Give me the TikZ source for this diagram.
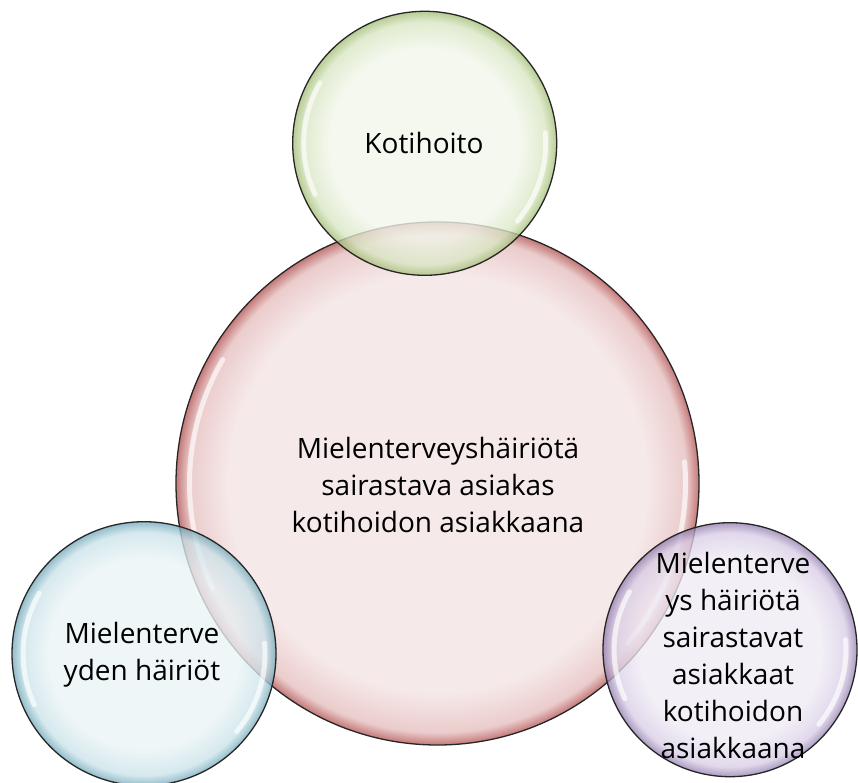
\documentclass[tikz,border=0pt]{standalone}
\usepackage{fontspec}
\setmainfont{Open Sans}
\definecolor{gin}{HTML}{F1F6EA}\definecolor{gmid}{HTML}{D8E6C2}\definecolor{gout}{HTML}{A3BE76}
\definecolor{rin}{HTML}{F6E9E9}\definecolor{rmid}{HTML}{EBCCCC}\definecolor{rout}{HTML}{C47878}
\definecolor{bin}{HTML}{E9F3F6}\definecolor{bmid}{HTML}{CBE3EA}\definecolor{bout}{HTML}{74AABB}
\definecolor{pin}{HTML}{EFEAF4}\definecolor{pmid}{HTML}{D9CEE6}\definecolor{pout}{HTML}{9480B0}
\pgfdeclareradialshading{shgreen}{\pgfpointorigin}{color(0bp)=(gin); color(18bp)=(gin); color(23bp)=(gmid); color(25bp)=(gout); color(50bp)=(gout)}
\pgfdeclareradialshading{shred}{\pgfpointorigin}{color(0bp)=(rin); color(20bp)=(rin); color(23.8bp)=(rmid); color(25bp)=(rout); color(50bp)=(rout)}
\pgfdeclareradialshading{shblue}{\pgfpointorigin}{color(0bp)=(bin); color(18bp)=(bin); color(23bp)=(bmid); color(25bp)=(bout); color(50bp)=(bout)}
\pgfdeclareradialshading{shpurple}{\pgfpointorigin}{color(0bp)=(pin); color(18bp)=(pin); color(23bp)=(pmid); color(25bp)=(pout); color(50bp)=(pout)}
\begin{document}
\begin{tikzpicture}[x=1pt,y=1pt,
  bubble/.style={circle, inner sep=0pt, draw=black!85, line width=1.3pt, shade},
  glint/.style={white, line width=5pt, opacity=0.65, line cap=round},
  btext/.style={align=center, inner sep=0pt, font=\fontsize{28}{37}\selectfont, text=black}]
\useasboundingbox (0,0) rectangle (858,782);
% big red
\node[bubble, shading=shred, minimum size=523pt] (red) at (437.5,298.5) {};
\draw[glint] ([shift={(150:248)}]red.center) arc[start angle=150, end angle=205, radius=248];
\draw[glint] ([shift={(-40:248)}]red.center) arc[start angle=-40, end angle=5, radius=248];
% green
\node[bubble, shading=shgreen, minimum size=264pt, fill opacity=0.78] (green) at (424.7,638.7) {};
\draw[glint] ([shift={(150:121)}]green.center) arc[start angle=150, end angle=205, radius=121];
\draw[glint] ([shift={(-40:121)}]green.center) arc[start angle=-40, end angle=5, radius=121];
% blue
\node[bubble, shading=shblue, minimum size=264pt, fill opacity=0.78] (blue) at (144,128.3) {};
\draw[glint] ([shift={(150:121)}]blue.center) arc[start angle=150, end angle=205, radius=121];
\draw[glint] ([shift={(-40:121)}]blue.center) arc[start angle=-40, end angle=5, radius=121];
% purple
\node[bubble, shading=shpurple, minimum size=254pt, fill opacity=0.78] (purple) at (730,132.3) {};
\draw[glint] ([shift={(150:116)}]purple.center) arc[start angle=150, end angle=205, radius=116];
\draw[glint] ([shift={(-40:116)}]purple.center) arc[start angle=-40, end angle=5, radius=116];
% texts
\node[btext] (tgreen) at (424,639) {Kotihoito};
\node[btext] (tred) at (438,297) {Mielenterveyshäiriötä\\sairastava asiakas\\kotihoidon asiakkaana};
\node[btext] (tblue) at (142,127.5) {Mielenterve\\yden häiriöt};
\node[btext] (tpurple) at (733,126.5) {Mielenterve\\ys häiriötä\\sairastavat\\asiakkaat\\kotihoidon\\asiakkaana};
\end{tikzpicture}
\end{document}
